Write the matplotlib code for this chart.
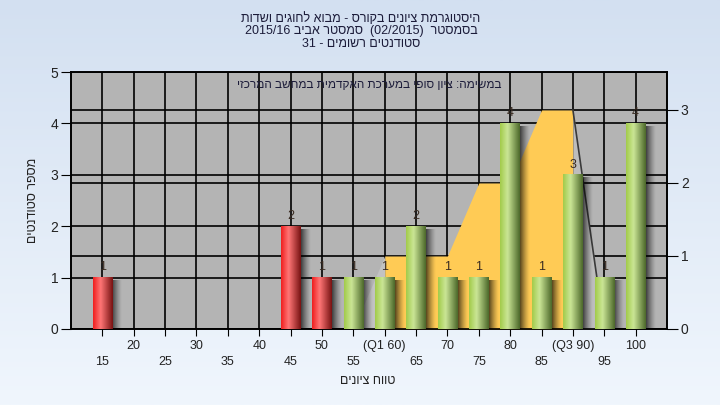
import numpy as np
import matplotlib.pyplot as plt
from matplotlib.colors import to_rgb

plt.rcParams['font.family'] = ['Liberation Sans', 'DejaVu Sans']

# grade bins, tick labels, students per bin
grades = [15, 20, 25, 30, 35, 40, 45, 50, 55, 60, 65, 70, 75, 80, 85, 90, 95, 100]
tick_labels = ['15', '20', '25', '30', '35', '40', '45', '50', '55', '(Q1 60)',
               '65', '70', '75', '80', '85', '(Q3 90)', '95', '100']
counts = [1, 0, 0, 0, 0, 0, 2, 1, 1, 1, 2, 1, 1, 4, 1, 3, 1, 4]

# quartile band, drawn against the right axis
band = [0, 0, 0, 0, 0, 0, 0, 0, 0, 1, 1, 1, 2, 2, 3, 3, 0, 0]
q1_grade, q3_grade = 60, 90
pass_mark = 55

title_lines = ['היסטוגרמת ציונים בקורס - מבוא לחוגים ושדות',
               'בסמסטר  (02/2015)  סמסטר אביב 2015/16',
               'סטודנטים רשומים - 31']
subtitle = 'במשימה: ציון סופי במערכת האקדמית במחשב המרכזי'
xlabel = 'טווח ציונים'
ylabel = 'מספר סטודנטים'


def rtl(s):
    """Visual (left-to-right) order for a Hebrew line."""
    out = []
    for tok in reversed(s.split(' ')):
        if any('\u0590' <= ch <= '\u05ff' for ch in tok):
            tok = tok[::-1]
        out.append(tok)
    return ' '.join(out)


def gradient_row(stops, n=64):
    xs = np.linspace(0, 1, n)
    pos = [p for p, _ in stops]
    cols = np.array([to_rgb(c) for _, c in stops])
    row = np.stack([np.interp(xs, pos, cols[:, k]) for k in range(3)], axis=-1)
    return row[np.newaxis, :, :]


RED = [(0, '#f01e1e'), (0.38, '#ff7676'), (1, '#781212')]
GREEN = [(0, '#a2cb4a'), (0.38, '#cbe696'), (1, '#4c682a')]

fig = plt.figure(figsize=(7.2, 4.05), dpi=100)

# light blue background
bg = fig.add_axes([0, 0, 1, 1], zorder=-10)
top_c, bot_c = np.array(to_rgb('#d3e0f1')), np.array(to_rgb('#f0f6fd'))
vgrad = np.linspace(0, 1, 256)[:, None, None] * (bot_c - top_c) + top_c
bg.imshow(vgrad, aspect='auto', extent=[0, 1, 0, 1], origin='upper')
bg.axis('off')

ax = fig.add_axes([71 / 720, 1 - 329 / 405, 596 / 720, 257 / 405])
ax2 = ax.twinx()
ax.set_zorder(2)
ax2.set_zorder(1)
ax.patch.set_visible(False)
ax2.patch.set_visible(True)
ax2.patch.set_facecolor('#b4b4b4')

pos = np.arange(1, len(grades) + 1)
ax2.set_ylim(0, 3.52)

# grid
ax.set_axisbelow(True)
ax.grid(True, color='black', lw=1.2)
ax2.grid(True, axis='y', color='black', lw=1.2)

# quartile band (right-axis values)
i1 = grades.index(q1_grade)
i3 = grades.index(q3_grade)
ax.fill_between(pos[i1:i3 + 1], band[i1:i3 + 1], 0, transform=ax2.transData,
                color='#ffcb55', lw=0, zorder=1)
ax.fill_between(pos[i1 - 1:i1 + 1], band[i1 - 1:i1 + 1], 0, transform=ax2.transData,
                color='#c2c2c2', lw=0, zorder=1)
ax.fill_between(pos[i3:i3 + 2], band[i3:i3 + 2], 0, transform=ax2.transData,
                color='#bdbdbd', lw=0, zorder=1)
ax.plot(pos[i3:i3 + 2], band[i3:i3 + 2], transform=ax2.transData,
        color='#3a3a3a', lw=1.2, zorder=1.2)

# cylinder bars with a soft shadow
w = 0.62
shadow = np.zeros((1, 64, 4))
shadow[..., 3] = np.linspace(0.8, 0, 64) ** 1.3
for x, g, c in zip(pos, grades, counts):
    if c == 0:
        continue
    ax.imshow(shadow, extent=[x + w / 2 - 0.02, x + w / 2 + 0.32, 0, c - 0.06],
              aspect='auto', interpolation='bicubic', zorder=2)
    stops = RED if g < pass_mark else GREEN
    ax.imshow(gradient_row(stops), extent=[x - w / 2, x + w / 2, 0, c],
              aspect='auto', interpolation='bicubic', zorder=3)
    ax.annotate(str(c), (x, c), xytext=(0, 3), textcoords='offset points',
                ha='center', va='bottom', fontsize=9, color='#3a2c22', zorder=4)

ax.set_xlim(0, len(grades) + 1)
ax.set_ylim(0, 5)

# axes and ticks
ax.set_xticks(pos)
ax.set_xticklabels([lab if i % 2 else '\n' + lab for i, lab in enumerate(tick_labels)])
for t in ax.get_xticklabels():
    t.set_linespacing(1.4)
ax.set_yticks(range(6))
ax2.set_yticks(range(4))
ax.tick_params(axis='x', direction='out', length=5, pad=3, labelsize=9,
               colors='black', labelcolor='#222222')
ax.tick_params(axis='y', direction='out', length=7, pad=2, labelsize=10,
               colors='black', labelcolor='#222222')
ax2.tick_params(axis='y', direction='out', length=8, pad=2, labelsize=10,
                colors='black', labelcolor='#222222')
for a in (ax, ax2):
    for sp in a.spines.values():
        sp.set_color('black')
        sp.set_linewidth(1.2)

# texts
fig.text(361 / 720, 1 - 12 / 405, '\n'.join(rtl(t) for t in title_lines),
         ha='center', va='top', fontsize=9, color='#1c1c3a', linespacing=1.05)
ax.text(0.5, 0.95, rtl(subtitle), transform=ax.transAxes, ha='center', va='center',
        fontsize=8.5, color='#1c1c3a', zorder=5)
fig.text(368 / 720, 1 - 381 / 405, rtl(xlabel), ha='center', va='center',
         fontsize=9, color='#222222')
fig.text(33 / 720, 1 - 200 / 405, rtl(ylabel), ha='center', va='center',
         rotation=90, fontsize=9, color='#222222')

fig.savefig('out.png', dpi=100)
